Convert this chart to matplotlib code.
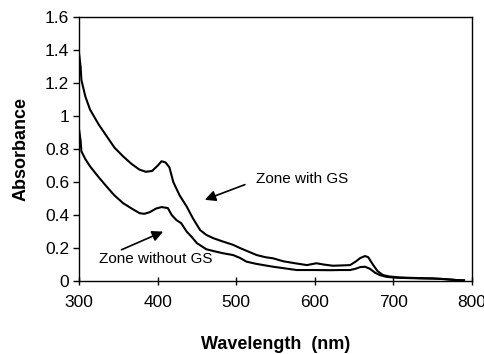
import matplotlib
matplotlib.use('Agg')
import matplotlib.pyplot as plt

# ── Data ─────────────────────────────────────────────────────────────────────
wl_with = [300, 302, 303, 308, 314, 325, 335, 345, 356, 367, 377, 385, 393,
           400, 405, 410, 415, 420, 428, 437, 445, 454, 462, 471, 483, 496,
           505, 515, 526, 537, 547, 560, 575, 590, 602, 612, 623, 635, 645,
           652, 658, 664, 668, 674, 680, 687, 695, 708, 720, 735, 751, 765,
           781, 790]
ab_with = [1.38, 1.30, 1.22, 1.12, 1.04, 0.95, 0.88, 0.81, 0.757, 0.71, 0.676,
           0.663, 0.668, 0.70, 0.727, 0.72, 0.69, 0.60, 0.52, 0.452, 0.38, 0.31,
           0.28, 0.26, 0.24, 0.22, 0.20, 0.18, 0.158, 0.145, 0.138, 0.12, 0.108,
           0.097, 0.108, 0.10, 0.093, 0.095, 0.097, 0.118, 0.14, 0.152, 0.145,
           0.10, 0.06, 0.036, 0.028, 0.022, 0.02, 0.018, 0.016, 0.012, 0.006,
           0.004]

wl_without = [300, 302, 303, 308, 314, 325, 335, 345, 356, 367, 377, 383, 390,
              398, 405, 413, 418, 424, 430, 437, 443, 450, 462, 473, 483, 496,
              505, 513, 525, 537, 547, 562, 577, 600, 620, 632, 645, 652, 658,
              664, 670, 677, 683, 692, 705, 720, 735, 751, 765, 781, 790]
ab_without = [0.92, 0.85, 0.787, 0.74, 0.696, 0.63, 0.574, 0.52, 0.473, 0.44,
              0.412, 0.408, 0.418, 0.44, 0.449, 0.443, 0.40, 0.37, 0.351, 0.30,
              0.27, 0.23, 0.193, 0.18, 0.169, 0.158, 0.14, 0.118, 0.105, 0.095,
              0.087, 0.077, 0.067, 0.067, 0.066, 0.067, 0.067, 0.075, 0.085,
              0.087, 0.075, 0.05, 0.036, 0.025, 0.02, 0.018, 0.016, 0.015,
              0.012, 0.006, 0.004]

x_ticks = [300, 400, 500, 600, 700, 800]
y_ticks = [0, 0.2, 0.4, 0.6, 0.8, 1.0, 1.2, 1.4, 1.6]
y_labels = ['0', '0.2', '0.4', '0.6', '0.8', '1', '1.2', '1.4', '1.6']

# ── Figure ───────────────────────────────────────────────────────────────────
plt.rcParams['font.family'] = ['Liberation Sans', 'DejaVu Sans']
fig = plt.figure(figsize=(4.85, 3.54), dpi=100)
ax = fig.add_axes([0.163, 0.206, 0.810, 0.745])

ax.plot(wl_with, ab_with, color='black', lw=1.5)
ax.plot(wl_without, ab_without, color='black', lw=1.5)

ax.set_xlim(300, 800)
ax.set_ylim(0, 1.6)
ax.set_xticks(x_ticks)
ax.set_yticks(y_ticks)
ax.set_yticklabels(y_labels)
ax.tick_params(axis='x', direction='inout', length=6, width=1.0,
               labelsize=12.5, pad=7)
ax.tick_params(axis='y', direction='out', length=4, width=1.0,
               labelsize=12.5, pad=3)
for s in ax.spines.values():
    s.set_linewidth(1.0)
    s.set_color('black')

ax.set_xlabel('Wavelength  (nm)', fontsize=13, fontweight='bold', labelpad=19)
ax.set_ylabel('Absorbance', fontsize=13, fontweight='bold', labelpad=11)

arrow = dict(arrowstyle='-|>', color='black', lw=1.2, mutation_scale=16,
             shrinkA=0, shrinkB=0)
ax.annotate('', xy=(460, 0.493), xytext=(511, 0.585), arrowprops=arrow)
ax.text(584, 0.62, 'Zone with GS', fontsize=11, ha='center', va='center')
ax.annotate('', xy=(407, 0.30), xytext=(354, 0.19), arrowprops=arrow)
ax.text(398, 0.132, 'Zone without GS', fontsize=11, ha='center', va='center')

fig.savefig('out.png', dpi=100, facecolor='white')
